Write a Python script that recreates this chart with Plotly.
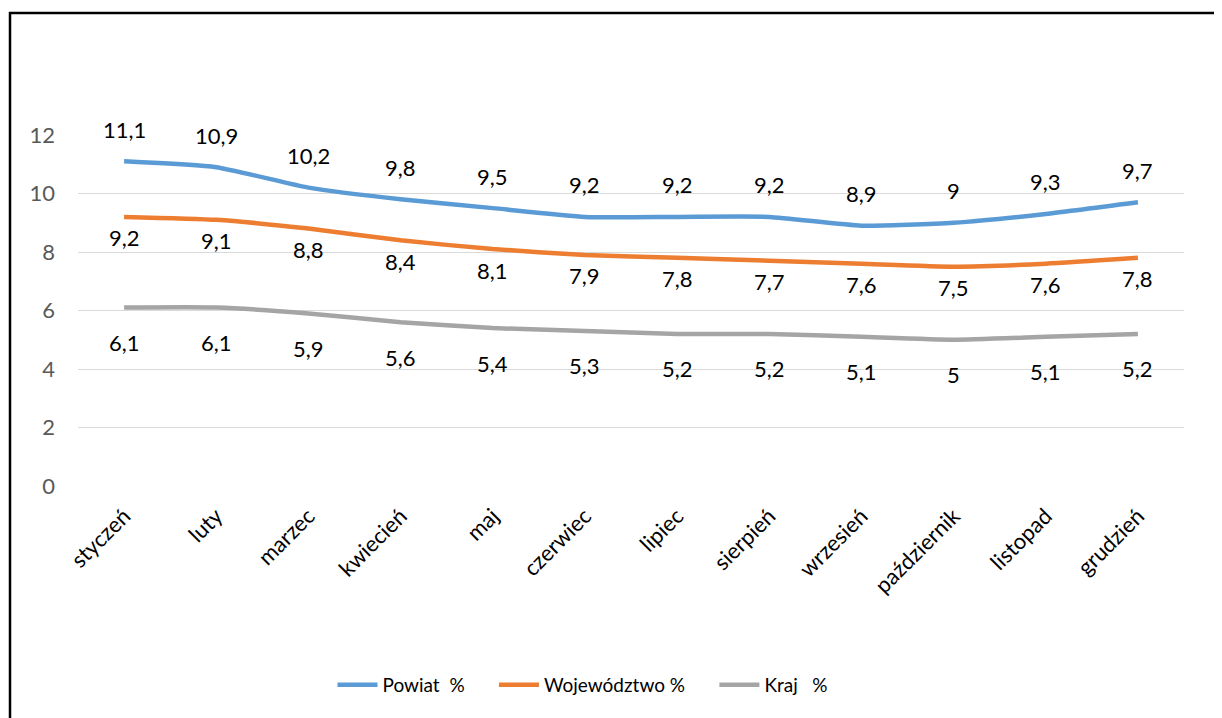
import plotly.graph_objects as go

months = ["styczeń", "luty", "marzec", "kwiecień", "maj", "czerwiec", "lipiec",
          "sierpień", "wrzesień", "październik", "listopad", "grudzień"]
powiat = [11.1, 10.9, 10.2, 9.8, 9.5, 9.2, 9.2, 9.2, 8.9, 9.0, 9.3, 9.7]
wojewodztwo = [9.2, 9.1, 8.8, 8.4, 8.1, 7.9, 7.8, 7.7, 7.6, 7.5, 7.6, 7.8]
kraj = [6.1, 6.1, 5.9, 5.6, 5.4, 5.3, 5.2, 5.2, 5.1, 5.0, 5.1, 5.2]
names = ["Powiat\u00a0\u00a0%", "Województwo\u00a0%", "Kraj\u00a0\u00a0\u00a0%"]
y_ticks = [0, 2, 4, 6, 8, 10, 12]

FONT = "Lato, Calibri, Carlito, sans-serif"
FS = 22
colors = ["#5B9BD5", "#ED7D31", "#A5A5A5"]
label_shift = [32, -21, -35]
GAP = "\u00a0" * 5

def fmt(v):
    return ("%g" % v).replace(".", ",")

fig = go.Figure()
annotations = []
series_list = [powiat, wojewodztwo, kraj]
for i, (series, name, color, shift) in enumerate(zip(series_list, names, colors, label_shift)):
    legend_name = name + (GAP if i < len(series_list) - 1 else "")
    fig.add_trace(go.Scatter(
        x=months, y=series, name=legend_name, mode="lines",
        line=dict(color=color, width=4.5, shape="spline", smoothing=0.5),
    ))
    for m, v in zip(months, series):
        annotations.append(dict(
            x=m, y=v, xref="x", yref="y", text=fmt(v), showarrow=False,
            yshift=shift, yanchor="middle", xanchor="center",
            font=dict(family=FONT, size=FS, color="#000000"),
        ))

# page body has an 8px offset; work in reference pixel coordinates
OFF = 8
W, H = 1222 - OFF, 718 - OFF
L, T = 78 - OFF, 135 - OFF
R = W - (1184 - OFF)
B = H - (486 - OFF)
pw, ph = W - L - R, H - T - B

def px_x(px):
    return (px - OFF - L) / pw

def px_y(py):
    return (H - B - (py - OFF)) / ph

fig.update_layout(
    width=W, height=H,
    margin=dict(l=L, r=R, t=T, b=B, pad=0),
    paper_bgcolor="white", plot_bgcolor="white",
    font=dict(family=FONT, size=FS, color="#000000"),
    annotations=annotations,
    showlegend=True,
    legend=dict(orientation="h", x=px_x(583), xanchor="center", y=px_y(685), yanchor="middle",
                font=dict(family=FONT, size=19, color="#000000"),
                itemwidth=40, tracegroupgap=0, bgcolor="rgba(0,0,0,0)"),
    xaxis=dict(type="category", range=[-0.5, len(months) - 0.5], tickangle=-45,
               showgrid=False, showline=False, ticklabelstandoff=12,
               ticks="", tickfont=dict(family=FONT, size=FS, color="#000000"),
               fixedrange=True),
    yaxis=dict(range=[0, 12], tickvals=y_ticks, showgrid=True, gridcolor="#D9D9D9",
               gridwidth=1.3, zeroline=False, showline=False, ticks="",
               ticklen=0, ticklabelstandoff=22,
               tickfont=dict(family=FONT, size=FS, color="#595959"),
               fixedrange=True),
    shapes=[dict(type="rect", xref="paper", yref="paper",
                 x0=px_x(10), x1=px_x(1240), y0=px_y(740), y1=px_y(13),
                 line=dict(color="#000000", width=2.5), fillcolor="rgba(0,0,0,0)",
                 layer="above")],
)

fig.write_html("out.html")
